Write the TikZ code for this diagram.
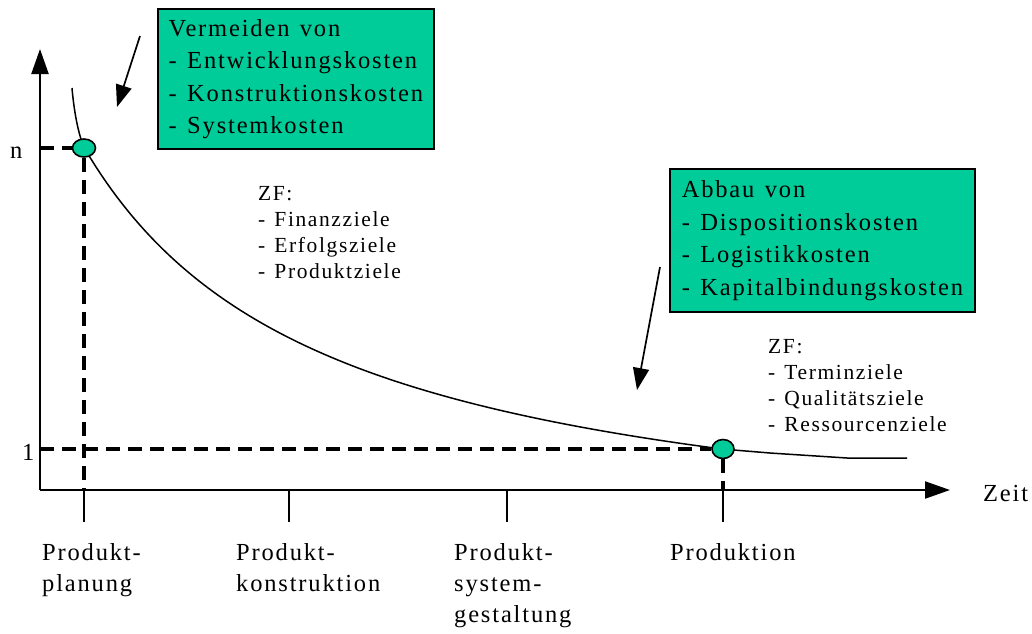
\documentclass[tikz,border=0pt]{standalone}
\usepackage{fontspec}
\setmainfont{Liberation Serif}[LetterSpace=7.5,WordSpace=1.3]
\usetikzlibrary{arrows.meta,shapes.geometric}
\definecolor{tealgreen}{RGB}{0,204,153}
\begin{document}
\begin{tikzpicture}[x=1pt,y=-1pt,
  axis/.style={line width=2.2pt,-{Triangle[length=25pt,width=17pt]}},
  pointer/.style={line width=1.7pt,-{Triangle[length=22pt,width=16pt]}},
  guide/.style={line width=3.2pt,dash pattern=on 14pt off 8pt},
  tickline/.style={line width=1.5pt},
  curve/.style={line width=1.5pt},
  costbox/.style={draw=black,line width=1.8pt,fill=tealgreen,align=left,inner sep=0pt,
    anchor=north west,font=\fontsize{24.5}{32.5}\selectfont},
  marker/.style={ellipse,draw=black,line width=1.6pt,fill=tealgreen,inner sep=0pt},
  goals/.style={align=left,inner sep=0pt,anchor=north west,font=\fontsize{21.5}{26}\selectfont},
  phase/.style={align=left,inner sep=0pt,anchor=north west,font=\fontsize{24.5}{31}\selectfont},
  lbl/.style={inner sep=0pt,anchor=base west,font=\fontsize{24.5}{26}\selectfont}]

\useasboundingbox (0,0) rectangle (1032,633);

% axes
\coordinate (O) at (40,490);
\coordinate (ytop) at (40,49);
\coordinate (xend) at (950,490);
\coordinate (yn) at (40,148);
\coordinate (yone) at (40,449);

% cost curve: steep start, hyperbolic decay, flat tail
\draw[curve] (72,88) .. controls (74,112) and (79,138) .. (85,149)
  -- plot[domain=85:722,samples=120] (\x,{564.4-1017.6/((\x+160)/100)})
  -- (770,453) -- (847,458) -- (907,458);

% markers on the curve
\node[marker,minimum width=23pt,minimum height=18pt] (p1) at (84,148) {};
\node[marker,minimum width=22pt,minimum height=19pt] (p2) at (723,449) {};

% phase ticks below the time axis
\coordinate (t1) at (p1 |- O);
\coordinate (t2) at (289,490);
\coordinate (t3) at (507,490);
\coordinate (t4) at (p2 |- O);
\foreach \t in {t1,t2,t3,t4}
  \draw[tickline] (\t) -- ++(0,32);

% guide lines
\draw[guide] (yn) -- (p1.west);
\draw[guide] (p1.south) -- (t1);
\draw[guide] (yone) -- (p2.west);
\draw[guide] (p2.south) -- (t4);

\draw[axis] (O) -- (ytop);
\draw[axis] (O) -- (xend);

% axis labels
\node[lbl] (ln) at (10,158) {n};
\node[lbl] (lone) at (22,460) {1};
\node[lbl] (lzeit) at (983,501) {Zeit};

% cost boxes
\node[costbox,minimum width=276pt,minimum height=140pt] (avoid) at (157,8)
  {Vermeiden von\\- Entwicklungskosten\\- Konstruktionskosten\\- Systemkosten};
\node[costbox,minimum width=305pt,minimum height=143pt] (reduce) at (669,168)
  {Abbau von\\- Dispositionskosten\\- Logistikkosten\\- Kapitalbindungskosten};

% pointers
\coordinate (a1s) at (140,36);
\coordinate (a1e) at (117,107);
\coordinate (a2s) at (660,267);
\coordinate (a2e) at (637,390);
\draw[pointer] (a1s) -- (a1e);
\draw[pointer] (a2s) -- (a2e);

% target functions
\node[goals] (zf1) at (258,186) {ZF:\\- Finanzziele\\- Erfolgsziele\\- Produktziele};
\node[goals] (zf2) at (768,339) {ZF:\\- Terminziele\\- Qualitätsziele\\- Ressourcenziele};

% phase labels
\node[phase] (ph1) at (42,543) {Produkt-\\planung};
\node[phase] (ph2) at (236,543) {Produkt-\\konstruktion};
\node[phase] (ph3) at (454,543) {Produkt-\\system-\\gestaltung};
\node[phase] (ph4) at (670,543) {Produktion};
\end{tikzpicture}
\end{document}
